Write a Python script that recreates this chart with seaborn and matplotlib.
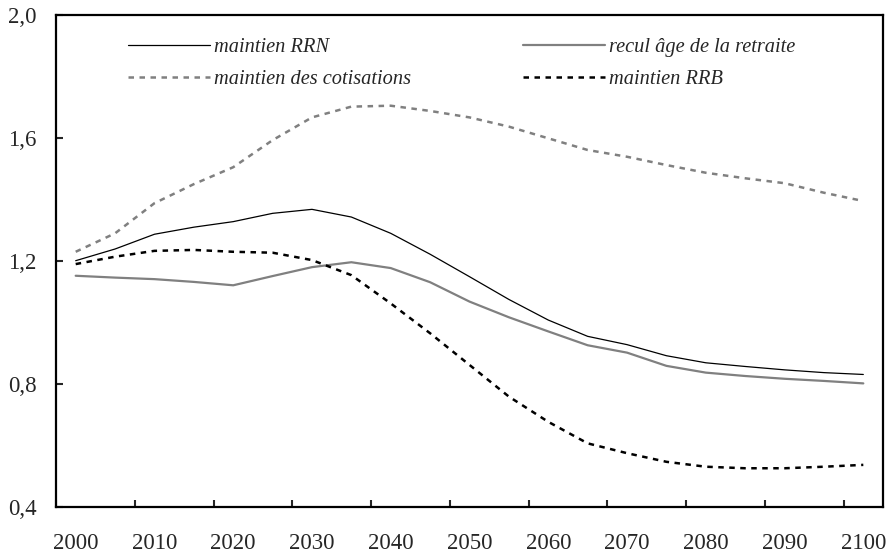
import numpy as np
import pandas as pd
import matplotlib
matplotlib.use("Agg")
import matplotlib.pyplot as plt
import seaborn as sns

"""
Data (read off the reference chart, points every 5 years)
"""
years = list(range(2000, 2101, 5))

maintien_rrn = [1.201, 1.239, 1.287, 1.310, 1.328, 1.355, 1.368, 1.343, 1.290, 1.222, 1.149,
                1.075, 1.008, 0.955, 0.928, 0.892, 0.869, 0.857, 0.846, 0.837, 0.831]
recul_age = [1.152, 1.146, 1.141, 1.132, 1.121, 1.151, 1.180, 1.196, 1.177, 1.131, 1.068,
             1.017, 0.971, 0.926, 0.902, 0.859, 0.837, 0.826, 0.817, 0.810, 0.802]
maintien_cotis = [1.230, 1.290, 1.388, 1.450, 1.505, 1.593, 1.667, 1.702, 1.705, 1.688, 1.667,
                  1.637, 1.599, 1.561, 1.539, 1.512, 1.487, 1.469, 1.453, 1.422, 1.395]
maintien_rrb = [1.190, 1.214, 1.233, 1.236, 1.230, 1.227, 1.203, 1.154, 1.062, 0.965, 0.862,
                0.759, 0.677, 0.607, 0.575, 0.547, 0.531, 0.526, 0.526, 0.531, 0.537]

y_ticks = [0.4, 0.8, 1.2, 1.6, 2.0]
x_labels = list(range(2000, 2101, 10))


def make_plot():
    sns.set_style("ticks")
    plt.rcParams["font.family"] = ["Liberation Serif", "DejaVu Serif"]

    df = pd.DataFrame({"annee": years,
                       "maintien RRN": maintien_rrn,
                       "recul âge de la retraite": recul_age,
                       "maintien des cotisations": maintien_cotis,
                       "maintien RRB": maintien_rrb})

    fig = plt.figure(figsize=(8.94, 5.58), dpi=100)
    ax = fig.add_axes([56 / 894, 1 - 507 / 558, (883 - 56) / 894, (507 - 15) / 558])

    gray = "#808080"
    sns.lineplot(data=df, x="annee", y="maintien RRN", ax=ax, color="black", lw=0.9,
                 label="maintien RRN")
    sns.lineplot(data=df, x="annee", y="maintien des cotisations", ax=ax, color=gray, lw=1.8,
                 label="maintien des cotisations")
    sns.lineplot(data=df, x="annee", y="recul âge de la retraite", ax=ax, color=gray, lw=1.6,
                 label="recul âge de la retraite")
    sns.lineplot(data=df, x="annee", y="maintien RRB", ax=ax, color="black", lw=1.8,
                 label="maintien RRB")
    ax.lines[1].set_dashes((2.2, 2.2))
    ax.lines[3].set_dashes((2.2, 2.2))

    ax.set_xlim(1997.5, 2102.5)
    ax.set_ylim(0.4, 2.0)
    ax.set_xlabel("")
    ax.set_ylabel("")

    # labels sit on the years, tick marks sit between categories
    ax.set_xticks(x_labels)
    ax.set_xticklabels([str(v) for v in x_labels])
    ax.set_xticks(np.arange(1997.5, 2100, 10), minor=True)
    ax.tick_params(axis="x", which="major", length=0, pad=19, labelsize=16.5)
    ax.tick_params(axis="x", which="minor", direction="in", length=5, width=1.5)

    ax.set_yticks(y_ticks)
    ax.set_yticklabels([f"{v:.1f}".replace(".", ",") for v in y_ticks])
    ax.tick_params(axis="y", direction="in", length=5, width=1.5, pad=14, labelsize=16.5)

    for s in ax.spines.values():
        s.set_visible(True)
        s.set_linewidth(1.6)
        s.set_color("black")

    leg = ax.legend(ncol=2, frameon=False, loc="upper left",
                    bbox_to_anchor=(128 / 894, 1 - 38 / 558), bbox_transform=fig.transFigure,
                    borderpad=0, borderaxespad=0, handlelength=4.0, handletextpad=0.2,
                    labelspacing=0.62, columnspacing=5.5,
                    prop={"family": "Liberation Serif", "style": "italic", "size": 14.7})

    fig.savefig("out.png", dpi=100)


if __name__ == '__main__':
    make_plot()
